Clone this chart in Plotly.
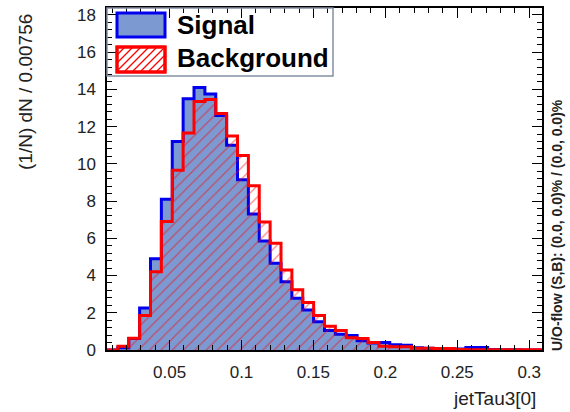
import numpy as np
import plotly.graph_objects as go

# Binning of the jetTau3[0] distribution
bin_width = 0.00756
x_min = 0.0065
n_bins = 40

# Normalised bin contents, (1/N) dN / bin
signal = [0.0, 0.12, 0.62, 2.25, 4.9, 8.1, 11.2, 13.5, 14.1, 13.75,
          12.6, 11.0, 9.15, 7.3, 5.85, 4.66, 3.67, 2.78, 2.15, 1.52,
          1.05, 0.85, 0.78, 0.5, 0.38, 0.4, 0.28, 0.25, 0.12, 0.1,
          0.08, 0.06, 0.06, 0.14, 0.14, 0.03, 0.02, 0.01, 0.0, 0.0]
background = [0.0, 0.2, 0.63, 1.85, 4.2, 6.9, 9.65, 11.65, 13.35, 13.45,
              12.7, 11.5, 10.45, 8.82, 6.88, 5.73, 4.3, 3.23, 2.55, 1.85,
              1.28, 1.05, 0.66, 0.62, 0.4, 0.2, 0.18, 0.18, 0.1, 0.1,
              0.08, 0.08, 0.03, 0.02, 0.02, 0.02, 0.02, 0.02, 0.02, 0.02]

x_tick_values = [0.05, 0.1, 0.15, 0.2, 0.25, 0.3]
x_tick_labels = ["0.05", "0.1", "0.15", "0.2", "0.25", "0.3"]

y_max = 18.37
edges = x_min + bin_width * np.arange(n_bins + 1)
x_max = edges[-1]

FONT = "Arial, Liberation Sans, Helvetica, sans-serif"
SIG_LINE, SIG_FILL = "#0000ee", "#7d99d1"
BKG_LINE = "#ff0000"


def step_xy(values):
    """Edge/height pairs for an 'hv' step outline of a histogram."""
    return list(edges), list(values) + [values[-1]]


fig = go.Figure()

sx, sy = step_xy(signal)
fig.add_trace(go.Scatter(
    x=sx, y=sy, mode="lines",
    line=dict(shape="hv", color=SIG_LINE, width=3),
    fill="tozeroy", fillcolor=SIG_FILL,
    name="Signal", showlegend=False, hoverinfo="skip",
))

bx, by = step_xy(background)
fig.add_trace(go.Scatter(
    x=bx, y=by, mode="lines",
    line=dict(shape="hv", color=BKG_LINE, width=3),
    fill="tozeroy", fillcolor="rgba(0,0,0,0)",
    fillpattern=dict(shape="/", fgcolor=BKG_LINE, bgcolor="rgba(0,0,0,0)",
                     size=8, solidity=0.15),
    name="Background", showlegend=False, hoverinfo="skip",
))

# Plot-area geometry in pixels (used for the hand-drawn legend)
W, H = 570, 412
ML, MR, MT, MB = 107, 28, 8, 62
PW, PH = W - ML - MR, H - MT - MB


def px(xp):
    return (xp - ML) / PW


def py(yp):
    return (H - MB - yp) / PH


axis_common = dict(
    showline=True, linecolor="black", linewidth=1.5, mirror="ticks",
    ticks="inside", ticklen=10, tickwidth=1, tickcolor="black",
    showgrid=False, zeroline=False, automargin=False,
    tickfont=dict(family=FONT, size=17, color="#222"),
)

fig.update_xaxes(
    range=[x_min, x_max], tickmode="array",
    tickvals=x_tick_values, ticktext=x_tick_labels, tickangle=0,
    minor=dict(ticks="inside", ticklen=5, dtick=0.01, tick0=0,
               tickcolor="black", showgrid=False),
    ticklabelstandoff=6,
    **axis_common,
)
fig.update_yaxes(
    range=[0, y_max], tick0=0, dtick=2,
    minor=dict(ticks="inside", ticklen=5, dtick=0.4, tickcolor="black", showgrid=False),
    ticklabelstandoff=6,
    **axis_common,
)

shapes = []
annotations = []

# Legend frame
shapes.append(dict(type="rect", xref="paper", yref="paper",
                   x0=px(107), x1=px(333), y0=py(76), y1=py(8),
                   line=dict(color="#8290a4", width=1.5), fillcolor="rgba(0,0,0,0)"))
# Signal swatch
shapes.append(dict(type="rect", xref="paper", yref="paper",
                   x0=px(117), x1=px(165), y0=py(37), y1=py(13),
                   line=dict(color=SIG_LINE, width=3), fillcolor=SIG_FILL))
# Background swatch: white box with diagonal hatching
bx0, bx1, by0, by1 = 117, 165, 47, 72
shapes.append(dict(type="rect", xref="paper", yref="paper",
                   x0=px(bx0), x1=px(bx1), y0=py(by1), y1=py(by0),
                   line=dict(color=BKG_LINE, width=3), fillcolor="white"))
hh = by1 - by0
for start in np.arange(bx0 - hh, bx1, 8.0):
    # line from (start, by1) going up-right at 45 degrees, clipped to the box
    xa, ya = start, by1
    xb, yb = start + hh, by0
    if xa < bx0:
        ya -= (bx0 - xa); xa = bx0
    if xb > bx1:
        yb += (xb - bx1); xb = bx1
    if xb - xa < 1:
        continue
    shapes.append(dict(type="line", xref="paper", yref="paper",
                       x0=px(xa), y0=py(ya), x1=px(xb), y1=py(yb),
                       line=dict(color=BKG_LINE, width=1.2)))
# outline again on top of the hatch
shapes.append(dict(type="rect", xref="paper", yref="paper",
                   x0=px(bx0), x1=px(bx1), y0=py(by1), y1=py(by0),
                   line=dict(color=BKG_LINE, width=3), fillcolor="rgba(0,0,0,0)"))

annotations.append(dict(text="<b>Signal</b>", xref="paper", yref="paper",
                        x=px(175), y=py(25), xanchor="left", yanchor="middle",
                        showarrow=False, font=dict(family=FONT, size=26, color="black")))
annotations.append(dict(text="<b>Background</b>", xref="paper", yref="paper",
                        x=px(175), y=py(58), xanchor="left", yanchor="middle",
                        showarrow=False, font=dict(family=FONT, size=26, color="black")))

# Axis titles
annotations.append(dict(text="jetTau3[0]", xref="paper", yref="paper",
                        x=px(538), y=py(398), xanchor="right", yanchor="middle",
                        showarrow=False, font=dict(family=FONT, size=19, color="#222")))
annotations.append(dict(text="(1/N) dN / 0.00756", xref="paper", yref="paper",
                        x=px(25), y=py(12), xanchor="center", yanchor="top",
                        textangle=-90, showarrow=False,
                        font=dict(family=FONT, size=19, color="#222")))
annotations.append(dict(text="<b>U/O-flow (S,B): (0.0, 0.0)% / (0.0, 0.0)%</b>",
                        xref="paper", yref="paper",
                        x=px(557), y=py(353), xanchor="center", yanchor="bottom",
                        textangle=-90, showarrow=False,
                        font=dict(family=FONT, size=14, color="#222")))

fig.update_layout(
    width=W, height=H,
    margin=dict(l=ML, r=MR, t=MT, b=MB, pad=0, autoexpand=False),
    paper_bgcolor="white", plot_bgcolor="white",
    showlegend=False,
    shapes=shapes, annotations=annotations,
)

fig.write_html("out.html")
